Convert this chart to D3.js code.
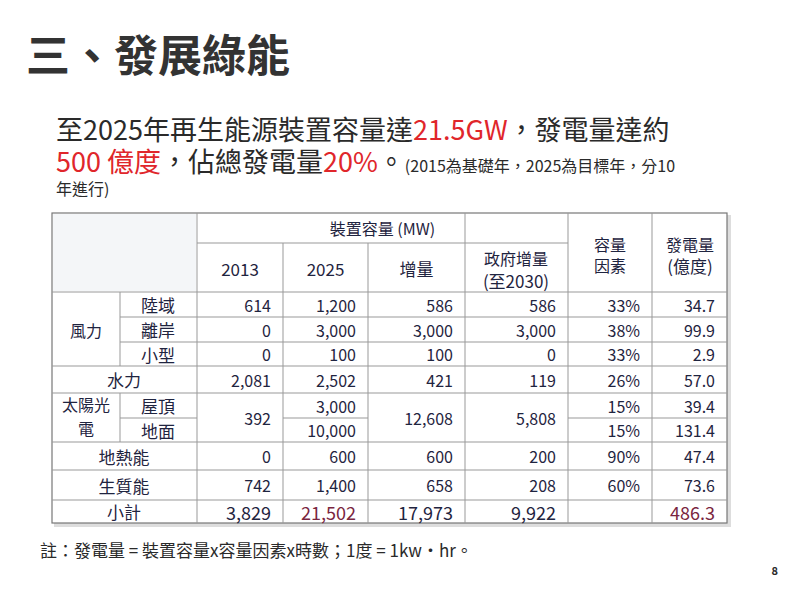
<!DOCTYPE html><html><head><meta charset="utf-8"><script src="https://cdn.jsdelivr.net/npm/d3@7"></script>
<style>body{margin:0;background:#fff}text{font-family:"Noto Sans CJK TC","Noto Sans",sans-serif}</style></head><body><svg id="c" width="800" height="593"></svg><script>
const rowNames=["陸域","離岸","小型","水力","屋頂","地面","地熱能","生質能","小計"];
const v2013=[614,0,0,2081,392,null,0,742,3829];
const v2025=[1200,3000,100,2502,3000,10000,600,1400,21502];
const vInc=[586,3000,100,421,12608,null,600,658,17973];
const vGov=[586,3000,0,119,5808,null,200,208,9922];
const vCF=["33%","38%","33%","26%","15%","15%","90%","60%",""];
const vGen=[34.7,99.9,2.9,57.0,39.4,131.4,47.4,73.6,486.3];
const svg=d3.select("#c");
const ink="#1f2440";
const colX=d3.scaleOrdinal().domain(d3.range(9)).range([52,120,197,283,368,465,568,652,727]);
const rowY=d3.scaleOrdinal().domain(d3.range(12)).range([213,243,292,317,342,366,393,418,442,470,500,523]);
svg.append("rect").attr("x",54).attr("y",215).attr("width",677).attr("height",312).attr("fill","#ddd");
svg.append("rect").attr("x",52).attr("y",213).attr("width",675).attr("height",310).attr("fill","#fff").attr("stroke","#777").attr("stroke-width",1.2);
svg.append("rect").attr("x",53).attr("y",214).attr("width",143).attr("height",77).attr("fill","#f4f6f8");
const L=(x1,y1,x2,y2)=>svg.append("line").attr("x1",x1).attr("y1",y1).attr("x2",x2).attr("y2",y2).attr("stroke","#999").attr("stroke-width",1);
[2,5,6,7].forEach(c=>L(colX(c),rowY(0),colX(c),rowY(11)));
[3,4].forEach(c=>L(colX(c),rowY(1),colX(c),rowY(11)));
L(colX(1),rowY(2),colX(1),rowY(5));L(colX(1),rowY(6),colX(1),rowY(8));
L(colX(2),rowY(1),colX(6),rowY(1));
L(colX(0),rowY(2),colX(8),rowY(2));
[3,4].forEach(r=>L(colX(1),rowY(r),colX(8),rowY(r)));
[5,6,8,9,10].forEach(r=>L(colX(0),rowY(r),colX(8),rowY(r)));
L(colX(1),rowY(7),colX(2),rowY(7));L(colX(3),rowY(7),colX(4),rowY(7));L(colX(6),rowY(7),colX(8),rowY(7));
const T=(x,y,s,anchor,fill,size)=>svg.append("text").attr("x",x).attr("y",y).attr("text-anchor",anchor||"middle").attr("dominant-baseline","central").attr("fill",fill||ink).attr("font-size",size||16).text(s);
T((colX(2)+colX(6))/2,228,"裝置容量 (MW)");
["2013","2025","增量"].forEach((s,i)=>T((colX(2+i)+colX(3+i))/2,268,s,"middle",ink,17));
T(516,258,"政府增量");T(516,280,"(至2030)",null,null,17);
T(610,244,"容量");T(610,265,"因素");
T(690,244,"發電量");T(690,265,"(億度)",null,null,17);
const mid=r=>(rowY(r)+rowY(r+1))/2;
T(86,mid(3),"風力");
[0,1,2].forEach(i=>T(158,mid(2+i),rowNames[i],null,null,17));
T(124,mid(5),rowNames[3],null,null,17);
T(86,404,"太陽光");T(86,428,"電");
T(158,mid(6),rowNames[4],null,null,17);T(158,mid(7),rowNames[5],null,null,17);
[6,7,8].forEach(i=>T(124,mid(i+2),rowNames[i],null,null,17));
const fmt=d3.format(",");
const cols=[v2013,v2025,vInc,vGov];
cols.forEach((arr,c)=>arr.forEach((v,i)=>{
  if(v==null)return;
  let y=mid(i+2);
  if(i==4 && c!=1) y=rowY(7);
  const tot=i==8;
  T(colX(c+3)-12,y,fmt(v),"end",(tot&&c==1)?"#7a2540":ink,tot?18:16);
}));
vCF.forEach((v,i)=>T(colX(7)-12,mid(i+2),v,"end",ink,16));
vGen.forEach((v,i)=>T(colX(8)-12,mid(i+2),v.toFixed(1),"end",i==8?"#7a2540":ink,i==8?18:16));
svg.append("text").attr("x",26).attr("y",72).attr("font-size",44).attr("font-weight",700).attr("fill","#333").text("三、發展綠能");
const red="#e0262b",dk="#2a2a2a";
const l1=svg.append("text").attr("x",56).attr("y",140).attr("font-size",27).attr("fill",dk);
l1.append("tspan").text("至2025年再生能源裝置容量達");
l1.append("tspan").attr("fill",red).text("21.5GW");
l1.append("tspan").text("，發電量達約");
const l2=svg.append("text").attr("x",56).attr("y",172).attr("font-size",27).attr("fill",dk);
l2.append("tspan").attr("fill",red).text("500 億度");
l2.append("tspan").text("，佔總發電量");
l2.append("tspan").attr("fill",red).text("20%");
l2.append("tspan").text("。");
l2.append("tspan").attr("font-size",16).text("(2015為基礎年，2025為目標年，分10");
svg.append("text").attr("x",56).attr("y",195).attr("font-size",16).attr("fill",dk).text("年進行)");
svg.append("text").attr("x",40).attr("y",557).attr("font-size",17).attr("fill",dk).text("註：發電量 = 裝置容量x容量因素x時數；1度 = 1kw·hr。");
svg.append("text").attr("x",778).attr("y",575).attr("font-size",11).attr("font-weight",700).attr("text-anchor","end").attr("fill",dk).text("8");
</script></body></html>
